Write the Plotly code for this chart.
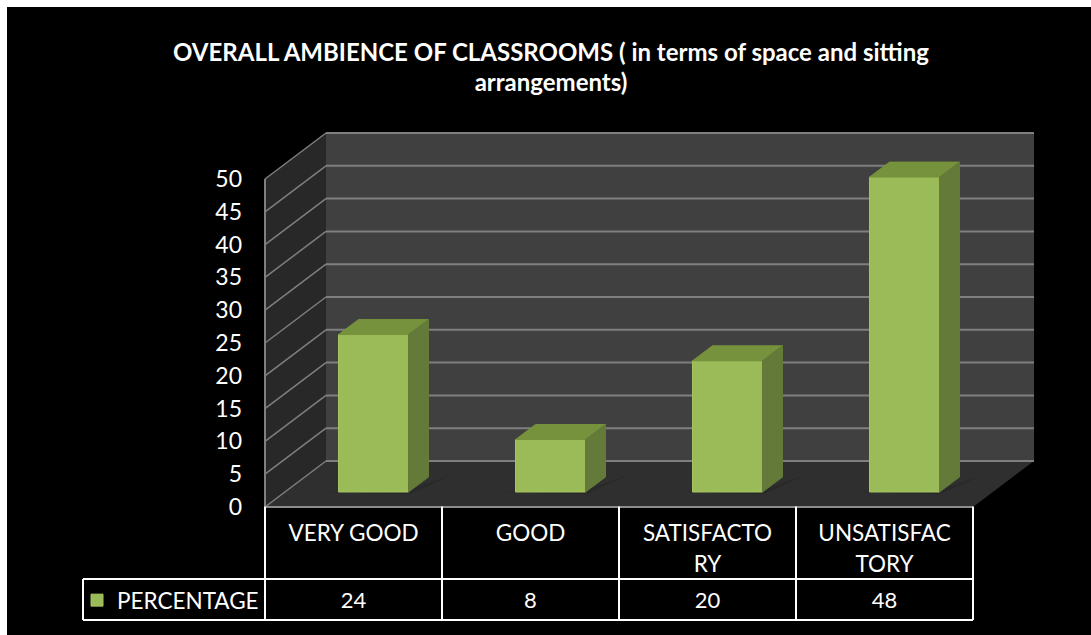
import plotly.graph_objects as go

# ---- data
CATEGORIES = [["VERY GOOD"], ["GOOD"], ["SATISFACTO", "RY"], ["UNSATISFAC", "TORY"]]
PERCENTAGE = [24, 8, 20, 48]
SERIES = "PERCENTAGE"
Y_TICKS = [0, 5, 10, 15, 20, 25, 30, 35, 40, 45, 50]
TITLE_LINES = ["OVERALL AMBIENCE OF CLASSROOMS ( in terms of space and sitting", "arrangements)"]

# ---- layout constants
W, H = 1091, 635
FONT = "Lato, Carlito, Calibri, sans-serif"
X0_PX, UNIT_X = 265.0, 177.0        # x=0 pixel, pixels per category
Y0_PX, UNIT_Y = 507.0, 6.56         # value 0 pixel, pixels per value unit
LEFT, TOP = 7, 7                    # white page edge
DX, DY = 61 / UNIT_X, 46 / UNIT_Y   # full depth of the floor in data units
BAR_W = 70 / UNIT_X
BAR_DX, BAR_DY = 20 / UNIT_X, 15 / UNIT_Y   # front of bar, and bar depth


def vy(py):
    return (Y0_PX - py) / UNIT_Y


def vx(px):
    return (px - X0_PX) / UNIT_X


def path(points):
    return "M" + " L".join(f"{a},{b}" for a, b in points) + " Z"


n = len(PERCENTAGE)
shapes = []


def poly(points, fill):
    shapes.append(dict(type="path", xref="x", yref="y", layer="below", path=path(points),
                       fillcolor=fill, line=dict(width=0)))


def line(x0, y0, x1, y1, color, width, layer="below"):
    shapes.append(dict(type="line", xref="x", yref="y", layer=layer, x0=x0, y0=y0, x1=x1, y1=y1,
                       line=dict(color=color, width=width)))


top = Y_TICKS[-1]
poly([(0, 0), (DX, DY), (DX, top + DY), (0, top)], "#282828")                # side wall
poly([(DX, DY), (n + DX, DY), (n + DX, top + DY), (DX, top + DY)], "#404040")  # back wall
poly([(0, 0), (n, 0), (n + DX, DY), (DX, DY)], "#2f2f2f")                    # floor

for v in Y_TICKS:
    if v > 0:
        line(0, v, DX, v + DY, "#7f7f7f", 1.5)
    line(DX, v + DY, n + DX, v + DY, "#7f7f7f", 2)
line(0, 0, DX, DY, "#7f7f7f", 1.5)
line(0, 0, 0, top, "#7f7f7f", 2)
line(0, 0, n, 0, "#8c8c8c", 2)

# floor shadows below the columns
for i in range(n):
    c = i + 0.5 + BAR_DX
    poly([(c - BAR_W / 2 - 0.07, BAR_DY), (c + BAR_W / 2, BAR_DY - 0.4),
          (c + BAR_W / 2 + BAR_DX + 0.12, BAR_DY * 2 + 0.2), (c + BAR_W / 2, BAR_DY + 0.3)], "#292929")

# data table
ROW_1, ROW_2, ROW_3 = vy(506.5), vy(579), vy(620)
TABLE_LEFT = vx(83)
for i in range(n + 1):
    line(i, ROW_1, i, ROW_3, "#ffffff", 2, "above")
line(0, ROW_2, n, ROW_2, "#ffffff", 2, "above")
line(TABLE_LEFT, ROW_2, 0, ROW_2, "#ffffff", 2, "above")
line(TABLE_LEFT, ROW_3, n, ROW_3, "#ffffff", 2, "above")
line(TABLE_LEFT, ROW_2, TABLE_LEFT, ROW_3, "#ffffff", 2, "above")

fig = go.Figure()
centers = [i + 0.5 for i in range(n)]
bar_x = [c + BAR_DX for c in centers]

fig.add_trace(go.Bar(x=bar_x, y=PERCENTAGE, base=BAR_DY, width=BAR_W, name=SERIES,
                     marker=dict(color="#9bbb59", line=dict(color="#a3c461", width=1)),
                     showlegend=True, hoverinfo="y"))

for c, v in zip(bar_x, PERCENTAGE):
    l, r, b, t = c - BAR_W / 2, c + BAR_W / 2, BAR_DY, BAR_DY + v
    fig.add_trace(go.Scatter(x=[l, r, r + BAR_DX, l + BAR_DX, l], y=[t, t, t + BAR_DY, t + BAR_DY, t],
                             mode="lines", fill="toself", fillcolor="#76923c",
                             line=dict(color="#76923c", width=1), showlegend=False, hoverinfo="skip"))
    fig.add_trace(go.Scatter(x=[r, r + BAR_DX, r + BAR_DX, r, r], y=[b, b + BAR_DY, t + BAR_DY, t, b],
                             mode="lines", fill="toself", fillcolor="#637a38",
                             line=dict(color="#637a38", width=1), showlegend=False, hoverinfo="skip"))

# value row of the data table
fig.add_trace(go.Scatter(x=centers, y=[(ROW_2 + ROW_3) / 2 - 2.5 / UNIT_Y] * n, mode="text",
                         text=[str(v) for v in PERCENTAGE],
                         textfont=dict(family=FONT, size=22, color="#ffffff"),
                         showlegend=False, hoverinfo="skip"))


def spaced(lines, size):
    return "<br>".join(f'<span style="font-size:{size}px">{s}</span>' for s in lines)


fig.update_layout(
    width=W, height=H, margin=dict(l=0, r=0, t=0, b=0),
    paper_bgcolor="#ffffff", plot_bgcolor="#000000",
    font=dict(family=FONT, color="#ffffff"),
    shapes=shapes,
    title=dict(text=spaced(TITLE_LINES, 24), font=dict(family=FONT, size=23, color="#ffffff", weight="bold"),
               x=551 / W, xanchor="center", y=1 - 61 / H, yanchor="top"),
    legend=dict(x=77 / W, y=1 - 579 / H, xanchor="left", yanchor="top", bgcolor="rgba(0,0,0,0)",
                font=dict(family=FONT, size=22.5, color="#ffffff"), itemclick=False),
    xaxis=dict(domain=[LEFT / W, 1], range=[vx(LEFT), vx(W)], anchor="free", position=(H - Y0_PX) / H,
               tickmode="array", tickvals=centers, ticktext=[spaced(c, 22.5) for c in CATEGORIES],
               tickfont=dict(family=FONT, size=24.5, color="#ffffff"),
               ticks="", showgrid=False, zeroline=False, showline=False, ticklabelstandoff=8),
    yaxis=dict(domain=[0, 1 - TOP / H], range=[vy(H), vy(TOP)], anchor="free", position=X0_PX / W,
               tickmode="array", tickvals=Y_TICKS, ticktext=[str(v) for v in Y_TICKS],
               tickfont=dict(family=FONT, size=23, color="#ffffff"),
               ticks="", showgrid=False, zeroline=False, showline=False, ticklabelstandoff=23),
)

fig.write_html("out.html", config=dict(displayModeBar=False),
               post_script="document.body.style.margin='0';")
